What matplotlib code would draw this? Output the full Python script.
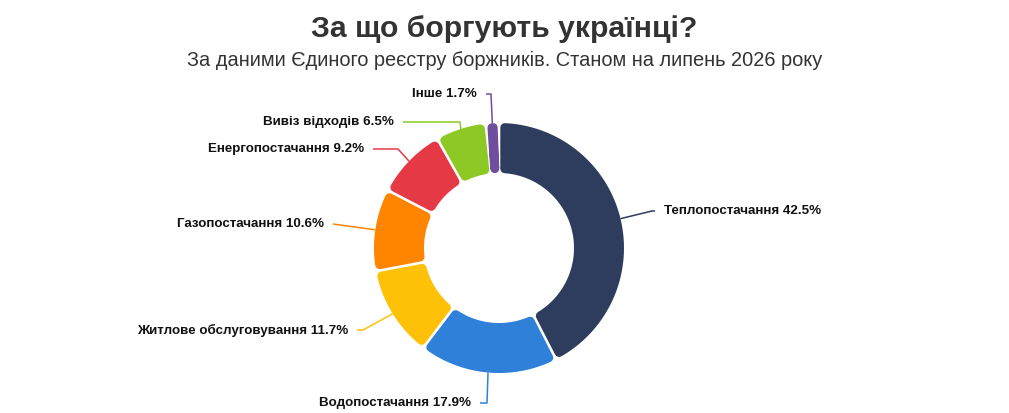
import numpy as np
import matplotlib
matplotlib.use('Agg')
import matplotlib.pyplot as plt
from matplotlib.patches import Polygon

plt.rcParams['font.family'] = ['Liberation Sans', 'DejaVu Sans']

# data
categories = ['Теплопостачання', 'Водопостачання', 'Житлове обслуговування',
              'Газопостачання', 'Енергопостачання', 'Вивіз відходів', 'Інше']
shares = [42.5, 17.9, 11.7, 10.6, 9.2, 6.5, 1.7]
colors = ['#2e3d5e', '#2f80d8', '#ffc107', '#ff8500', '#e63946', '#8cc924', '#6f4ea0']

title = 'За що боргують українці?'
subtitle = 'За даними Єдиного реєстру боржників. Станом на липень 2026 року'

# layout (pixels, y from the top)
W, H = 1009, 413
cx, cy = 499, 248
r_out, ring = 125, 50
# elbow point, line end, text side for every label
elbows = [(652, 211), (487, 403), (363, 330), (333, 224), (398, 149), (460, 122), (491, 94)]
ends = [(655, 211), (480, 403), (357, 330), (333, 224), (373, 149), (403, 122), (486, 94)]
sides = ['left', 'right', 'right', 'right', 'right', 'right', 'right']
text_gap = 9

fig = plt.figure(figsize=(W / 100, H / 100), dpi=100)
ax = fig.add_axes([0, 0, 1, 1])

wedges, _ = ax.pie(shares, colors=colors, startangle=90, counterclock=False,
                   radius=r_out, center=(cx, H - cy),
                   wedgeprops=dict(width=ring, linewidth=0))
ax.set_xlim(0, W)
ax.set_ylim(0, H)
ax.set_aspect('equal')
ax.axis('off')


def rounded_segment(t1, t2, color, d=4.5, pad=1.3):
    # inset outline with constant-width gaps, stroked with round joins
    p = d + pad
    r1, r2 = r_out - d, r_out - ring + d
    half = (t2 - t1) / 2
    mid = (t1 + t2) / 2
    pts = []
    for r, rev in ((r1, False), (r2, True)):
        off = min(np.degrees(np.arcsin(p / r)), half - 0.02)
        a = np.linspace(t1 + off, t2 - off, 60)
        if rev:
            a = a[::-1]
        pts += [(cx + r * np.cos(np.radians(t)), H - cy + r * np.sin(np.radians(t))) for t in a]
    poly = Polygon(pts, closed=True, facecolor=color, edgecolor=color,
                   linewidth=2 * d * 0.72, joinstyle='round')
    ax.add_patch(poly)


for w, col in zip(wedges, colors):
    w.set_visible(False)
    rounded_segment(w.theta1, w.theta2, col)

# connector lines and labels
for w, name, val, col, el, en, side in zip(wedges, categories, shares, colors, elbows, ends, sides):
    mid = np.radians((w.theta1 + w.theta2) / 2)
    sx = cx + r_out * np.cos(mid)
    sy = H - cy + r_out * np.sin(mid)
    ax.plot([sx, el[0], en[0]], [sy, H - el[1], H - en[1]], color=col, lw=1.1,
            solid_capstyle='butt')
    tx = en[0] + text_gap if side == 'left' else en[0] - text_gap
    ax.text(tx, H - en[1], f'{name} {val}%', ha=side, va='center',
            fontsize=9.6, fontweight='bold', color='#111111')

ax.text(W / 2, H - 37, title, ha='center', va='baseline', fontsize=21.7,
        fontweight='bold', color='#333333')
ax.text(W / 2, H - 60, subtitle, ha='center', va='center', fontsize=14.4,
        color='#333333')

fig.savefig('out.png', dpi=100)
